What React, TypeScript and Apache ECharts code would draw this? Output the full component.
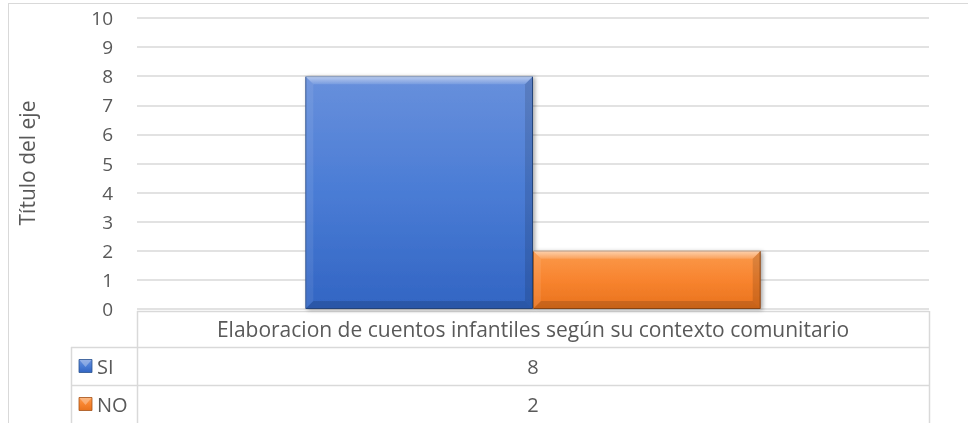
import React, { useEffect, useRef } from "react";
import * as echarts from "echarts";

const categories = ["Elaboracion de cuentos infantiles según su contexto comunitario"];
const seriesNames = ["SI", "NO"];
const siValues = [8];
const noValues = [2];
const yMin = 0;
const yMax = 10;
const yInterval = 1;
const axisTitle = "Título del eje";

const FONT = "'Open Sans', Lato, sans-serif";
const TXT = "#595959";
const LINE = "#d9d9d9";
const CAT_GAP = 0.425;

const blueFill = new echarts.graphic.LinearGradient(0, 0, 0, 1, [
  { offset: 0, color: "#6890dc" },
  { offset: 0.5, color: "#4a7cd5" },
  { offset: 1, color: "#3265c3" },
]);
const orangeFill = new echarts.graphic.LinearGradient(0, 0, 0, 1, [
  { offset: 0, color: "#fb9a4c" },
  { offset: 0.5, color: "#f8842f" },
  { offset: 1, color: "#e8721d" },
]);

export default function App() {
  const ref = useRef<HTMLDivElement>(null);
  useEffect(() => {
    if (!ref.current) return;
    const chart = echarts.init(ref.current, null, { renderer: "svg" });
    const L = 137, R = 929, T = 18, B = 309;
    const tableTop = 311, row1 = 347, row2 = 385, tableBottom = 423, legL = 71;
    const seriesVals = [siValues, noValues];
    const fills = [blueFill, orangeFill];
    const graphics: any[] = [
      { type: "line", shape: { x1: 8, y1: 3.5, x2: 968, y2: 3.5 }, style: { stroke: LINE, lineWidth: 1 } },
      { type: "line", shape: { x1: 8.5, y1: 3, x2: 8.5, y2: 423 }, style: { stroke: LINE, lineWidth: 1 } },
      { type: "line", shape: { x1: L, y1: tableTop + 0.5, x2: R, y2: tableTop + 0.5 }, style: { stroke: LINE, lineWidth: 1.5 } },
      { type: "line", shape: { x1: legL, y1: row1 + 0.5, x2: R, y2: row1 + 0.5 }, style: { stroke: LINE, lineWidth: 1.5 } },
      { type: "line", shape: { x1: legL, y1: row2 + 0.5, x2: R, y2: row2 + 0.5 }, style: { stroke: LINE, lineWidth: 1.5 } },
      { type: "line", shape: { x1: L + 0.5, y1: tableTop, x2: L + 0.5, y2: tableBottom }, style: { stroke: LINE, lineWidth: 1.5 } },
      { type: "line", shape: { x1: R + 0.5, y1: tableTop, x2: R + 0.5, y2: tableBottom }, style: { stroke: LINE, lineWidth: 1.5 } },
      { type: "line", shape: { x1: legL + 0.5, y1: row1, x2: legL + 0.5, y2: tableBottom }, style: { stroke: LINE, lineWidth: 1.5 } },
      {
        type: "text", x: (L + R) / 2, y: (tableTop + row1) / 2,
        style: { text: categories[0], font: `21px ${FONT}`, fill: TXT, textAlign: "center", textVerticalAlign: "middle" },
      },
    ];
    const rowYs = [(row1 + row2) / 2, (row2 + tableBottom) / 2];
    seriesNames.forEach((name, i) => {
      graphics.push({
        type: "rect", shape: { x: 79, y: rowYs[i] - 6.5, width: 13, height: 13 },
        style: { fill: fills[i], stroke: i === 0 ? "#2c548f" : "#a4531a", lineWidth: 0.8 },
      });
      graphics.push({
        type: "polygon", shape: { points: [[79.5, rowYs[i] - 6], [91.5, rowYs[i] - 6], [85.5, rowYs[i] + 1]] },
        style: { fill: "rgba(255,255,255,0.3)" },
      });
      graphics.push({
        type: "text", x: 97, y: rowYs[i],
        style: { text: name, font: `20px ${FONT}`, fill: TXT, textAlign: "left", textVerticalAlign: "middle" },
      });
      graphics.push({
        type: "text", x: (L + R) / 2, y: rowYs[i],
        style: { text: String(seriesVals[i][0]), font: `20px ${FONT}`, fill: TXT, textAlign: "center", textVerticalAlign: "middle" },
      });
    });
    graphics.push({
      type: "text", x: 27, y: 163, rotation: Math.PI / 2,
      style: { text: axisTitle, font: `21px ${FONT}`, fill: TXT, textAlign: "center", textVerticalAlign: "middle" },
    });

    const bevelSeries = seriesNames.map((name, k) => ({
      name: name + "-bevel",
      type: "custom",
      silent: true,
      z: 5,
      data: seriesVals[k].map((v, i) => [i, v]),
      renderItem: (params: any, api: any) => {
        const top = api.coord([api.value(0), api.value(1)]);
        const base = api.coord([api.value(0), 0]);
        const band = api.size([1, 0])[0];
        const bw = (band * (1 - CAT_GAP)) / 2;
        const x0 = top[0] - bw + k * bw;
        const x1 = x0 + bw;
        const y0 = top[1];
        const y1 = base[1];
        const b = Math.min(8, (y1 - y0) / 2);
        return {
          type: "group",
          children: [
            {
              type: "polygon",
              shape: { points: [[x0, y0], [x1, y0], [x1 - b, y0 + b], [x0 + b, y0 + b]] },
              style: {
                fill: new echarts.graphic.LinearGradient(0, 0, 0, 1, [
                  { offset: 0, color: "rgba(255,255,255,0.55)" },
                  { offset: 1, color: "rgba(255,255,255,0.12)" },
                ]),
              },
            },
            {
              type: "polygon",
              shape: { points: [[x0, y0], [x0 + b, y0 + b], [x0 + b, y1 - b], [x0, y1]] },
              style: { fill: "rgba(255,255,255,0.08)" },
            },
            {
              type: "polygon",
              shape: { points: [[x1, y0], [x1, y1], [x1 - b, y1 - b], [x1 - b, y0 + b]] },
              style: { fill: "rgba(0,0,0,0.12)" },
            },
            {
              type: "polygon",
              shape: { points: [[x0, y1], [x0 + b, y1 - b], [x1 - b, y1 - b], [x1, y1]] },
              style: { fill: "rgba(0,0,0,0.14)" },
            },
          ],
        };
      },
    }));

    chart.setOption({
      animation: false,
      grid: { left: L, right: 968 - R, top: T, bottom: 423 - B, containLabel: false },
      xAxis: {
        type: "category",
        data: categories,
        axisLine: { show: false },
        axisTick: { show: false },
        axisLabel: { show: false },
      },
      yAxis: {
        type: "value",
        min: yMin,
        max: yMax,
        interval: yInterval,
        axisLine: { show: false },
        axisTick: { show: false },
        axisLabel: { color: TXT, fontFamily: FONT, fontSize: 19, margin: 24 },
        splitLine: { lineStyle: { color: LINE, width: 1.5 } },
      },
      series: [
        ...seriesNames.map((name, i) => ({
          name,
          type: "bar",
          data: seriesVals[i],
          barGap: "0%",
          barCategoryGap: `${CAT_GAP * 100}%`,
          itemStyle: {
            color: fills[i],
            borderColor: i === 0 ? "#2b4f8c" : "#9c4f18",
            borderWidth: 1,
            shadowColor: "rgba(0,0,0,0.35)",
            shadowBlur: 4,
            shadowOffsetX: 2,
            shadowOffsetY: 1,
          },
        })),
        ...bevelSeries,
      ],
      graphic: graphics,
    });
    return () => chart.dispose();
  }, []);
  return <div ref={ref} style={{ position: "fixed", left: 0, top: 0, width: 968, height: 423 }} />;
}
